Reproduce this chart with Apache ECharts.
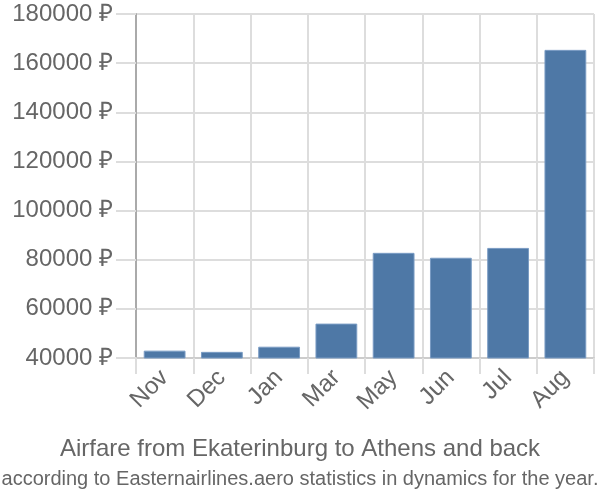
<!DOCTYPE html>
<html><head><meta charset="utf-8">
<script src="https://cdn.jsdelivr.net/npm/echarts@6/dist/echarts.min.js"></script>
<style>html,body{margin:0;padding:0;background:#fff}#c{width:600px;height:500px}</style>
</head><body><div id="c"></div>
<script>
const categories = ['Nov','Dec','Jan','Mar','May','Jun','Jul','Aug'];
const prices = [43000, 42500, 44600, 54000, 82800, 80800, 84800, 165400];
const yTicks = {min: 40000, max: 180000, step: 20000};
const titleText = 'Airfare from Ekaterinburg to Athens and back';
const subtitleText = 'according to Easternairlines.aero statistics in dynamics for the year.';

const chart = echarts.init(document.getElementById('c'), null, {renderer: 'canvas'});
chart.setOption({
  animation: false,
  textStyle: {fontFamily: 'Liberation Sans'},
  grid: {left: 136, right: 6, top: 14, bottom: 142, containLabel: false},
  title: [
    {text: titleText, left: 'center', top: 432, textStyle: {fontSize: 24, fontWeight: 'normal', color: '#666', fontFamily: 'Liberation Sans'}},
    {text: subtitleText, left: 'center', top: 464, textStyle: {fontSize: 20, fontWeight: 'normal', color: '#666', fontFamily: 'Liberation Sans'}}
  ],
  xAxis: {
    type: 'category', data: categories,
    axisLine: {show: true, lineStyle: {color: '#ccc', width: 2}},
    axisTick: {show: true, length: 16, lineStyle: {color: '#ddd', width: 2}},
    splitLine: {show: true, lineStyle: {color: '#ddd', width: 2}},
    axisLabel: {rotate: 45, fontSize: 24, color: '#666', margin: 16, interval: 0}
  },
  yAxis: {
    type: 'value', min: yTicks.min, max: yTicks.max, interval: yTicks.step,
    axisLine: {show: true, lineStyle: {color: '#aaa', width: 2}},
    axisTick: {show: true, length: 20, lineStyle: {color: '#ddd', width: 2}},
    splitLine: {show: true, lineStyle: {color: '#ddd', width: 2}},
    axisLabel: {formatter: v => v + ' ₽', fontSize: 24, color: '#666', margin: 23}
  },
  series: [{
    type: 'bar', data: prices, barCategoryGap: '27%',
    itemStyle: {color: '#4e78a6', borderColor: '#7a9cc4', borderWidth: 1}
  }]
});
</script></body></html>
